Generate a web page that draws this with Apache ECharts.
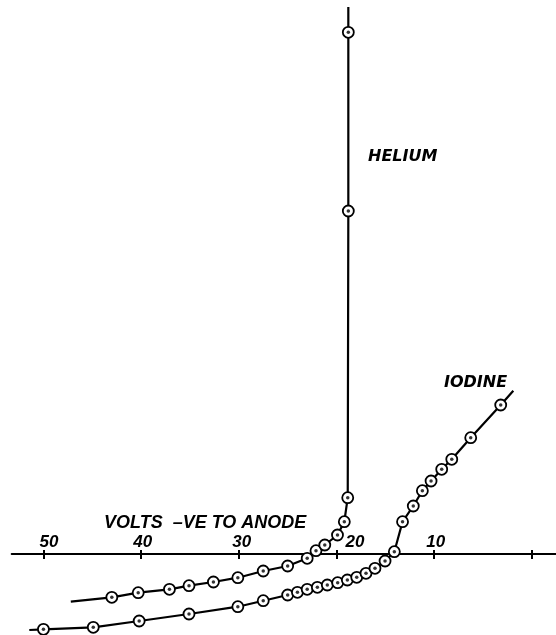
<!DOCTYPE html>
<html>
<head>
<meta charset="utf-8">
<script src="https://cdn.jsdelivr.net/npm/echarts@6/dist/echarts.min.js"></script>
<style>
html,body{margin:0;padding:0;background:#fff;}
#c{width:556px;height:635px;}
</style>
</head>
<body>
<div id="c"></div>
<script>
// Volts (negative to anode) and current (arbitrary units, 0 = axis line)
const heliumVolts = [47.2, 43.0, 40.3, 37.1, 35.1, 32.6, 30.1, 27.5, 25.0, 23.0, 22.1, 21.2, 19.9, 19.2, 18.85, 18.79, 18.79, 18.79];
const heliumCurrent = [-4.77, -4.33, -3.87, -3.53, -3.17, -2.8, -2.37, -1.7, -1.2, -0.43, 0.33, 0.9, 1.9, 3.23, 5.63, 34.3, 52.17, 54.7];
const iodineVolts = [51.45, 50.0, 44.9, 40.2, 35.1, 30.1, 27.5, 25.0, 24.0, 23.0, 21.96, 20.94, 19.88, 18.89, 17.93, 16.98, 16.06, 15.03, 14.08, 13.24, 12.14, 11.21, 10.32, 9.23, 8.2, 6.26, 3.19, 1.9];
const iodineCurrent = [-7.6, -7.53, -7.33, -6.7, -6.0, -5.27, -4.67, -4.1, -3.83, -3.53, -3.33, -3.1, -2.87, -2.6, -2.33, -1.93, -1.43, -0.7, 0.23, 3.23, 4.8, 6.33, 7.3, 8.47, 9.47, 11.63, 14.9, 16.33];
// first and last points of each curve are line ends without a plotted marker
const tickValues = [0, 10, 20, 30, 40, 50];
const labelValues = [10, 20, 30, 40, 50];
const xTitle = 'VOLTS  \u2013VE TO ANODE';
const seriesNames = ['HELIUM', 'IODINE'];

function lineData(vs, cs) {
  return vs.map((v, i) => {
    const d = { value: [v, cs[i]] };
    if (i === 0 || i === vs.length - 1) d.symbol = 'none';
    return d;
  });
}
function dotData(vs, cs) {
  return vs.map((v, i) => [v, cs[i]]).slice(1, vs.length - 1);
}

const chart = echarts.init(document.getElementById('c'), null, { renderer: 'canvas' });
const labelFont = '"Liberation Sans", Arial, sans-serif';
const Y_MIN = -8.1, Y_MAX = 55.4, H = 635;
const zeroFromBottom = H * (0 - Y_MIN) / (Y_MAX - Y_MIN); // grid 2 ends at the zero line
const xCommon = {
  type: 'value', inverse: true, min: -2.47, max: 53.25, position: 'bottom',
  splitLine: { show: false }
};
const labelPad = { 50: [0,0,0,11], 40: [0,0,0,3], 30: [0,0,0,6], 20: [0,0,0,37], 10: [0,0,0,3] };
const rich = {};
labelValues.forEach(v => { rich['l' + v] = { padding: labelPad[v], fontFamily: labelFont, fontSize: 17, fontWeight: 'bold', fontStyle: 'italic', color: '#000' }; });

const lineStyle = { color: '#000', width: 2.2 };
const itemStyle = { color: '#fff', borderColor: '#000', borderWidth: 1.8 };

chart.setOption({
  animation: false,
  backgroundColor: '#fff',
  grid: [
    { left: 11.7, right: 0, top: 0, bottom: 0 },
    { left: 11.7, right: 0, top: 0, bottom: zeroFromBottom }
  ],
  xAxis: [
    Object.assign({}, xCommon, {
      gridIndex: 0,
      axisLine: { show: false, onZero: true },
      axisTick: { show: true, inside: false, length: 5, customValues: tickValues, lineStyle: { color: '#000', width: 2 } },
      axisLabel: { show: false }
    }),
    Object.assign({}, xCommon, {
      gridIndex: 1,
      axisLine: { show: true, onZero: false, lineStyle: { color: '#000', width: 2 } },
      axisTick: { show: true, inside: true, length: 4, customValues: tickValues, lineStyle: { color: '#000', width: 2 } },
      axisLabel: {
        show: true, inside: true, margin: 3, customValues: labelValues,
        formatter: v => '{l' + v + '|' + v + '}', rich
      }
    })
  ],
  yAxis: [
    { gridIndex: 0, type: 'value', min: Y_MIN, max: Y_MAX, show: false, splitLine: { show: false } },
    { gridIndex: 1, type: 'value', min: 0, max: Y_MAX, show: false, splitLine: { show: false } }
  ],
  series: [
    { name: seriesNames[0], type: 'line', data: lineData(heliumVolts, heliumCurrent), symbol: 'circle', symbolSize: 11, lineStyle, itemStyle, z: 2 },
    { name: seriesNames[1], type: 'line', data: lineData(iodineVolts, iodineCurrent), symbol: 'circle', symbolSize: 11, lineStyle, itemStyle, z: 2 },
    { type: 'scatter', data: dotData(heliumVolts, heliumCurrent), symbolSize: 3.5, itemStyle: { color: '#000' }, z: 3 },
    { type: 'scatter', data: dotData(iodineVolts, iodineCurrent), symbolSize: 3.5, itemStyle: { color: '#000' }, z: 3 }
  ],
  graphic: [
    { type: 'text', left: 104, top: 514, style: { text: xTitle, font: 'italic bold 18px "Liberation Sans"', fill: '#000' } },
    { type: 'text', left: 368, top: 149, style: { text: seriesNames[0], font: 'italic bold 16px "DejaVu Sans"', fill: '#000' } },
    { type: 'text', left: 444, top: 375, style: { text: seriesNames[1], font: 'italic bold 16px "DejaVu Sans"', fill: '#000' } }
  ]
});
</script>
</body>
</html>
